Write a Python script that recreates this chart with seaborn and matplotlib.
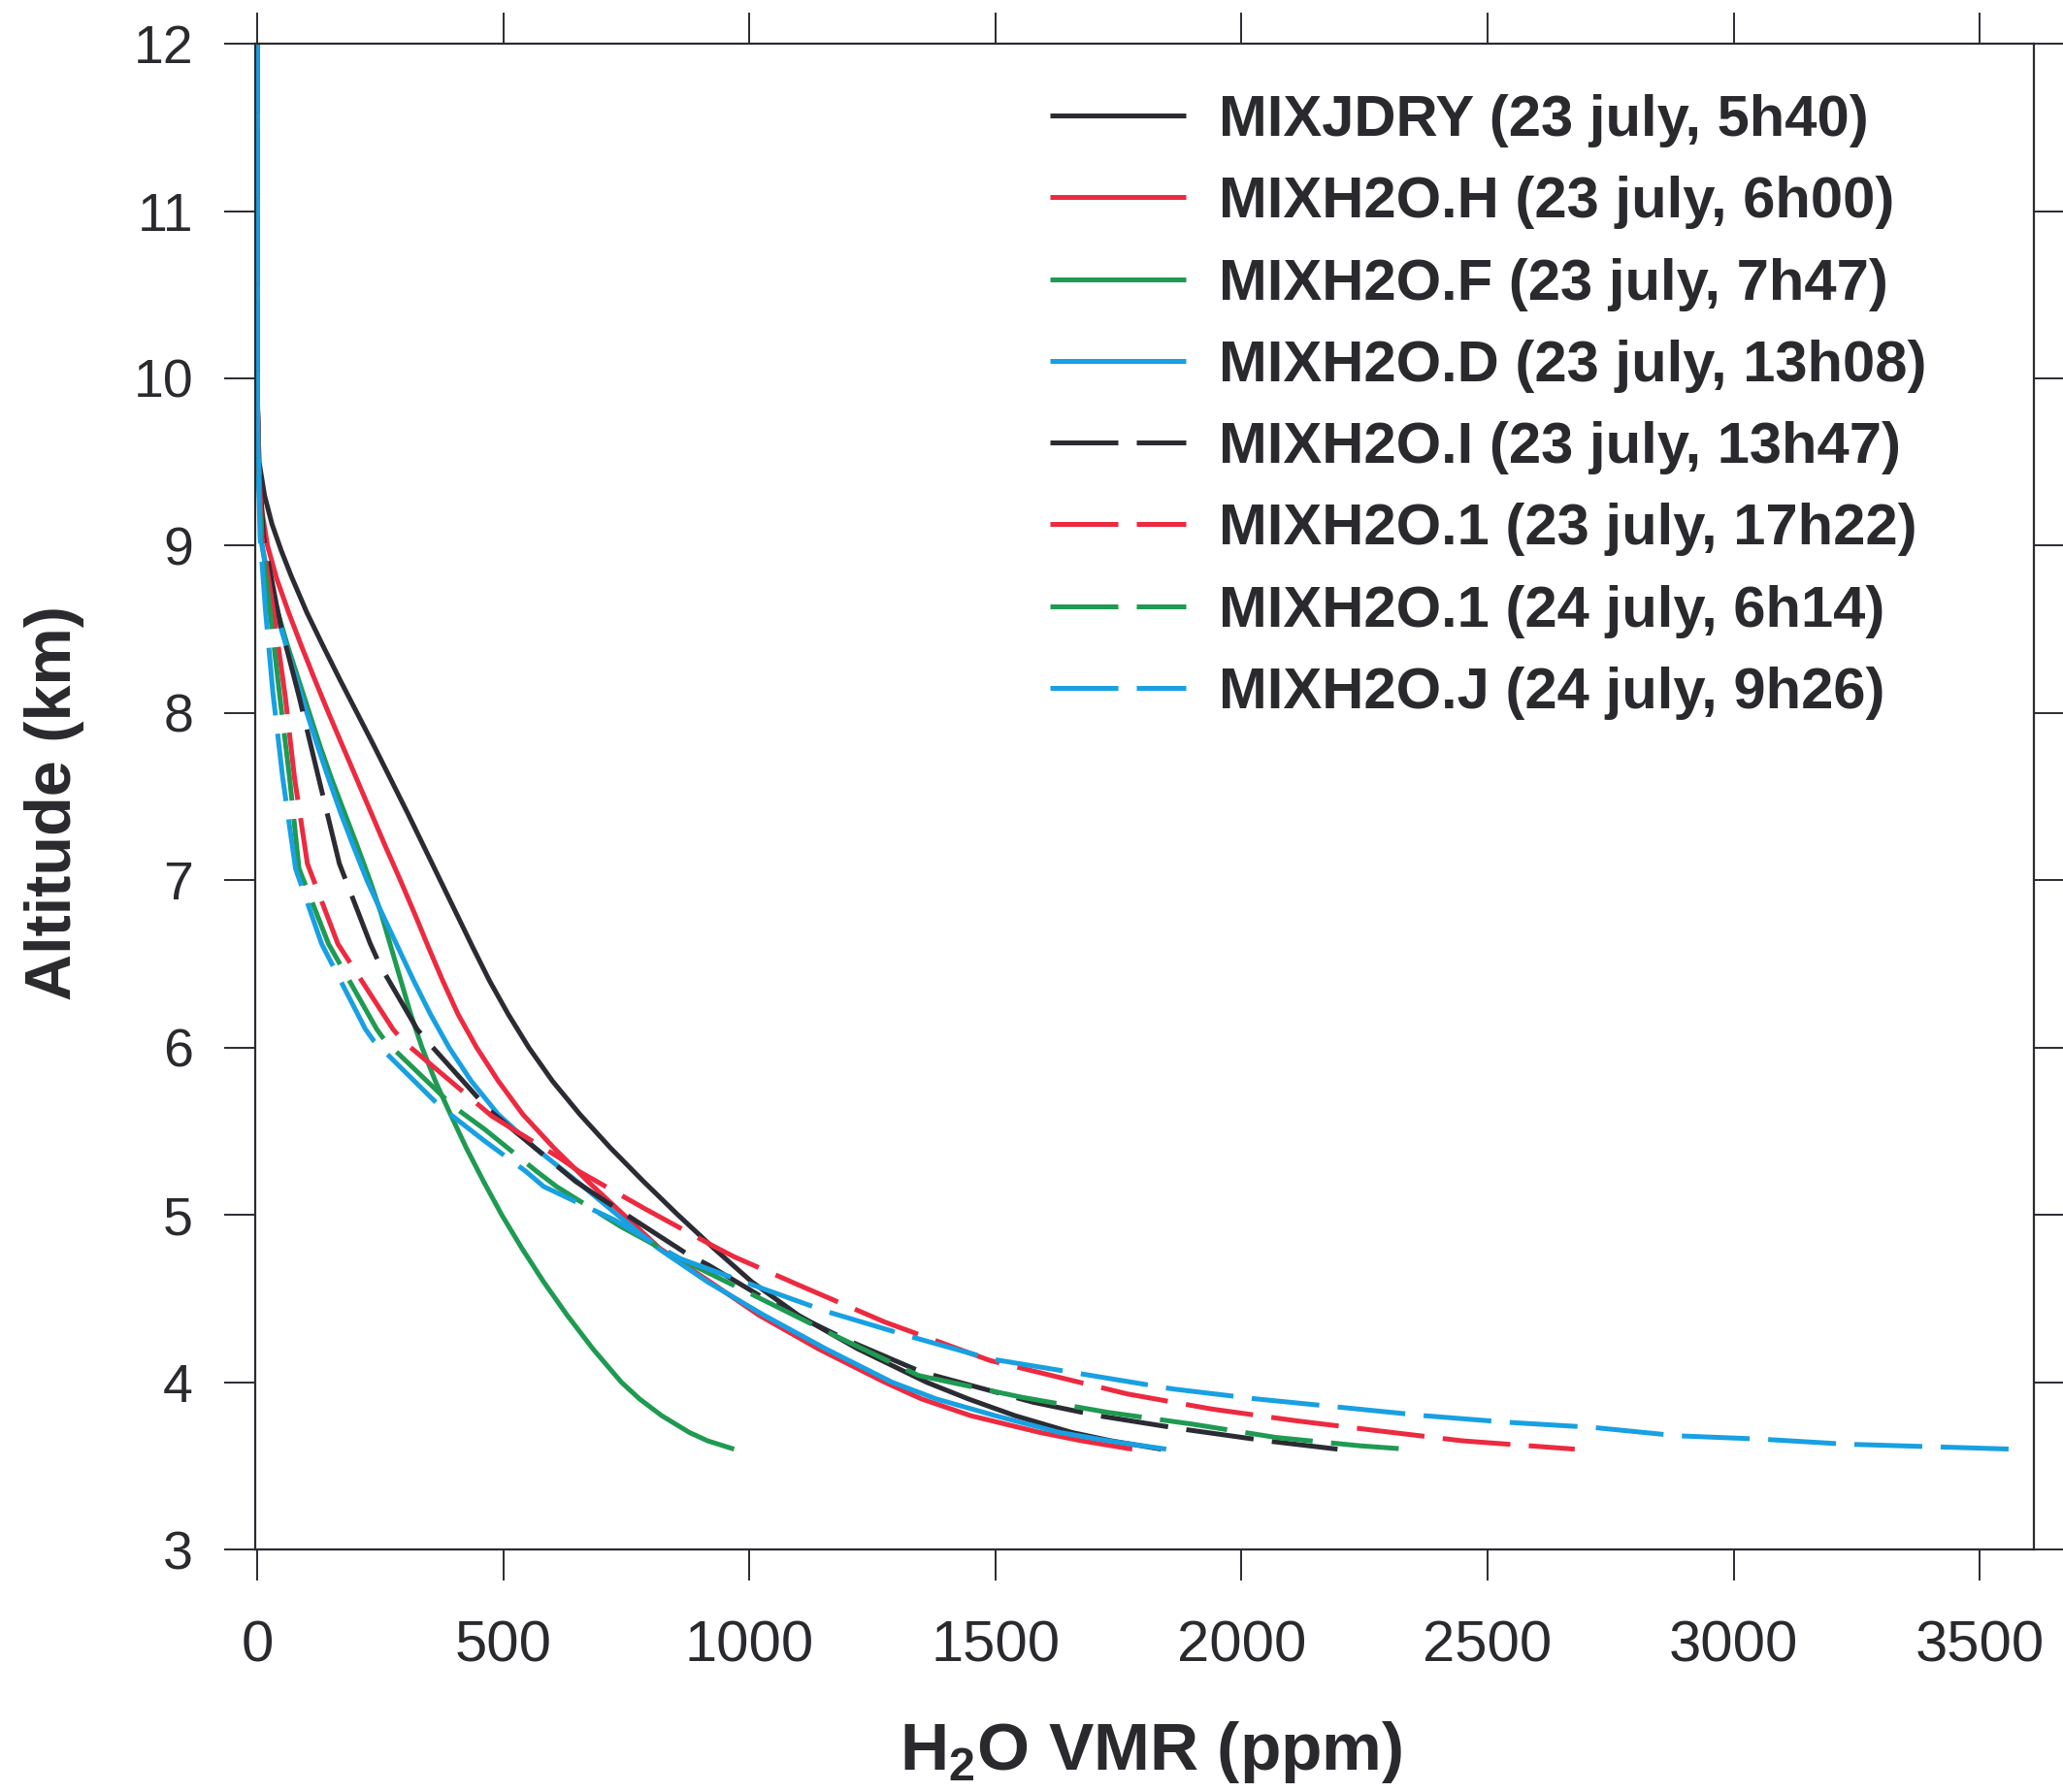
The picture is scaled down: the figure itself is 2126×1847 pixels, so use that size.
import matplotlib
matplotlib.use("Agg")
import matplotlib.pyplot as plt
import seaborn as sns

# ---- H2O profiles: VMR (ppm) against altitude (km) ----
jdry_vmr = [0, 0, 1, 4, 15, 30, 49, 69, 101, 134, 168, 203, 238, 272, 306, 339, 372, 405, 438, 472,
            510, 552, 600, 656, 718, 785, 855, 928, 1005, 1100, 1220, 1360, 1445, 1540, 1655, 1735, 1837]
jdry_alt = [12, 10.0, 9.8, 9.5, 9.3, 9.13, 8.97, 8.82, 8.6, 8.4, 8.2, 8.0, 7.8, 7.6, 7.4, 7.2, 7.0,
            6.8, 6.6, 6.4, 6.2, 6.0, 5.8, 5.6, 5.4, 5.2, 5.0, 4.8, 4.6, 4.4, 4.2, 4.0, 3.9, 3.8, 3.7,
            3.65, 3.6]

h_vmr = [0, 0, 2, 4, 10, 21, 40, 64, 90, 117, 145, 174, 203, 232, 261, 291, 320, 348, 377, 408,
         446, 490, 540, 603, 672, 745, 818, 920, 1020, 1140, 1275, 1350, 1450, 1590, 1675, 1778]
h_alt = [12, 10.0, 9.6, 9.4, 9.2, 9.0, 8.8, 8.6, 8.4, 8.2, 8.0, 7.8, 7.6, 7.4, 7.2, 7.0, 6.8, 6.6,
         6.4, 6.2, 6.0, 5.8, 5.6, 5.4, 5.2, 5.0, 4.8, 4.6, 4.4, 4.2, 4.0, 3.9, 3.8, 3.7, 3.65, 3.6]

f_vmr = [0, 0, 2, 5, 10, 23, 42, 62, 84, 106, 128, 152, 178, 204, 229, 252, 272, 292, 312, 335,
         362, 393, 425, 460, 497, 538, 582, 630, 682, 740, 777, 822, 878, 915, 969]
f_alt = [12, 10.0, 9.6, 9.3, 9.0, 8.8, 8.6, 8.4, 8.2, 8.0, 7.8, 7.6, 7.4, 7.2, 7.0, 6.8, 6.6, 6.4,
         6.2, 6.0, 5.8, 5.6, 5.4, 5.2, 5.0, 4.8, 4.6, 4.4, 4.2, 4.0, 3.9, 3.8, 3.7, 3.65, 3.6]

d_vmr = [0, 0, 2, 6, 10, 21, 39, 59, 80, 101, 123, 146, 170, 196, 223, 254, 286, 318, 352, 390,
         435, 490, 565, 650, 732, 815, 915, 1030, 1155, 1290, 1380, 1500, 1630, 1730, 1847]
d_alt = [12, 10.0, 9.6, 9.2, 9.0, 8.8, 8.6, 8.4, 8.2, 8.0, 7.8, 7.6, 7.4, 7.2, 7.0, 6.8, 6.6, 6.4,
         6.2, 6.0, 5.8, 5.6, 5.4, 5.2, 5.0, 4.8, 4.6, 4.4, 4.2, 4.0, 3.9, 3.8, 3.7, 3.65, 3.6]

i_vmr = [0, 0, 3, 13, 39, 49, 85, 125, 167, 230, 250, 325, 345, 470, 647, 693, 877, 917, 1048, 1200,
         1351, 1577, 1709, 1880, 2050, 2195]
i_alt = [12, 10.0, 9.5, 9.05, 8.65, 8.51, 8.10, 7.61, 7.10, 6.62, 6.49, 6.11, 6.04, 5.63, 5.20, 5.11,
         4.76, 4.70, 4.47, 4.25, 4.06, 3.88, 3.80, 3.72, 3.65, 3.60]

r1_vmr = [0, 0, 3, 10, 33, 57, 76, 102, 164, 276, 296, 437, 477, 615, 654, 792, 923, 969, 1101, 1275,
          1489, 1768, 1939, 2110, 2277, 2448, 2677]
r1_alt = [12, 10.0, 9.5, 9.05, 8.61, 8.10, 7.61, 7.10, 6.62, 6.11, 6.04, 5.69, 5.59, 5.34, 5.26, 5.03,
          4.82, 4.75, 4.58, 4.36, 4.13, 3.93, 3.84, 3.77, 3.71, 3.65, 3.60]

g1_vmr = [0, 0, 2, 8, 26, 46, 66, 85, 145, 243, 260, 398, 463, 568, 608, 739, 871, 1002, 1173, 1344,
          1554, 1728, 1899, 2070, 2241, 2336]
g1_alt = [12, 10.0, 9.5, 9.05, 8.61, 8.10, 7.61, 7.07, 6.62, 6.11, 6.04, 5.65, 5.51, 5.26, 5.17, 4.93,
          4.72, 4.53, 4.28, 4.04, 3.91, 3.82, 3.75, 3.67, 3.62, 3.60]

j_vmr = [0, 0, 2, 6, 17, 32, 52, 78, 131, 220, 237, 371, 463, 546, 582, 726, 858, 989, 1160, 1331,
         1489, 1860, 2031, 2202, 2372, 2543, 2714, 2885, 3056, 3227, 3567]
j_alt = [12, 10.0, 9.5, 9.05, 8.61, 8.12, 7.61, 7.07, 6.62, 6.11, 6.04, 5.65, 5.44, 5.26, 5.17, 4.97,
         4.74, 4.60, 4.42, 4.27, 4.14, 3.96, 3.90, 3.85, 3.80, 3.76, 3.73, 3.68, 3.66, 3.63, 3.60]

labels = [
    "MIXJDRY (23 july, 5h40)",
    "MIXH2O.H (23 july, 6h00)",
    "MIXH2O.F (23 july, 7h47)",
    "MIXH2O.D (23 july, 13h08)",
    "MIXH2O.I (23 july, 13h47)",
    "MIXH2O.1 (23 july, 17h22)",
    "MIXH2O.1 (24 july, 6h14)",
    "MIXH2O.J (24 july, 9h26)",
]
x_ticks = [0, 500, 1000, 1500, 2000, 2500, 3000, 3500]
y_ticks = [3, 4, 5, 6, 7, 8, 9, 10, 11, 12]

BLACK = "#2b2b33"
RED = "#ec2a40"
GREEN = "#1f9a52"
BLUE = "#18a0e2"

profiles = [
    (jdry_vmr, jdry_alt, BLACK, False),
    (h_vmr, h_alt, RED, False),
    (f_vmr, f_alt, GREEN, False),
    (d_vmr, d_alt, BLUE, False),
    (i_vmr, i_alt, BLACK, True),
    (r1_vmr, r1_alt, RED, True),
    (g1_vmr, g1_alt, GREEN, True),
    (j_vmr, j_alt, BLUE, True),
]

sns.set_theme(style="ticks")
plt.rcParams["font.family"] = ["Liberation Sans", "DejaVu Sans"]
plt.rcParams["mathtext.fontset"] = "custom"
plt.rcParams["mathtext.rm"] = "Liberation Sans"
plt.rcParams["mathtext.bf"] = "Liberation Sans:bold"

TEXT = "#2a2a2e"
fig = plt.figure(figsize=(21.26, 18.47), dpi=100)
ax = fig.add_axes([0.1237, 0.1353, 0.8622, 0.8403])

LW = 3.6
for (vmr, alt, color, dashed), lab in zip(profiles, labels):
    sns.lineplot(x=vmr, y=alt, sort=False, estimator=None, color=color,
                 linewidth=LW, label=lab, ax=ax)
    line = ax.lines[-1]
    line.set_solid_capstyle("butt")
    line.set_solid_joinstyle("round")
    if dashed:
        line.set_dashes((14, 3.8))
        line.set_dash_capstyle("butt")

ax.set_xlim(-4, 3610)
ax.set_ylim(3, 12)
ax.set_xticks(x_ticks)
ax.set_yticks(y_ticks)

for side in ["left", "right", "top", "bottom"]:
    ax.spines[side].set_visible(True)
    ax.spines[side].set_color(BLACK)
    ax.spines[side].set_linewidth(1.6)

ax.tick_params(axis="both", which="major", direction="out", length=23, width=1.4,
               color=BLACK, top=True, right=True, labeltop=False, labelright=False,
               labelcolor=TEXT)
ax.tick_params(axis="x", labelsize=43, pad=29)
ax.tick_params(axis="y", labelsize=40, pad=23)

ax.set_xlabel(r"H$_{\mathbf{2}}$O VMR (ppm)", fontsize=50, fontweight="bold", color=TEXT)
ax.set_ylabel("Altitude (km)", fontsize=48, fontweight="bold", color=TEXT)
ax.xaxis.set_label_coords(0.5035, -0.113)
ax.yaxis.set_label_coords(-0.096, 0.496)

leg = ax.legend(loc="upper left", bbox_to_anchor=(0.447, 0.9665), bbox_transform=ax.transAxes,
                frameon=False, fontsize=43, handlelength=2.33, handletextpad=0.58,
                labelspacing=0.49, borderpad=0, borderaxespad=0)
for txt in leg.get_texts():
    txt.set_fontweight("bold")
    txt.set_color(TEXT)

fig.savefig("out.png", dpi=100, facecolor="white")
